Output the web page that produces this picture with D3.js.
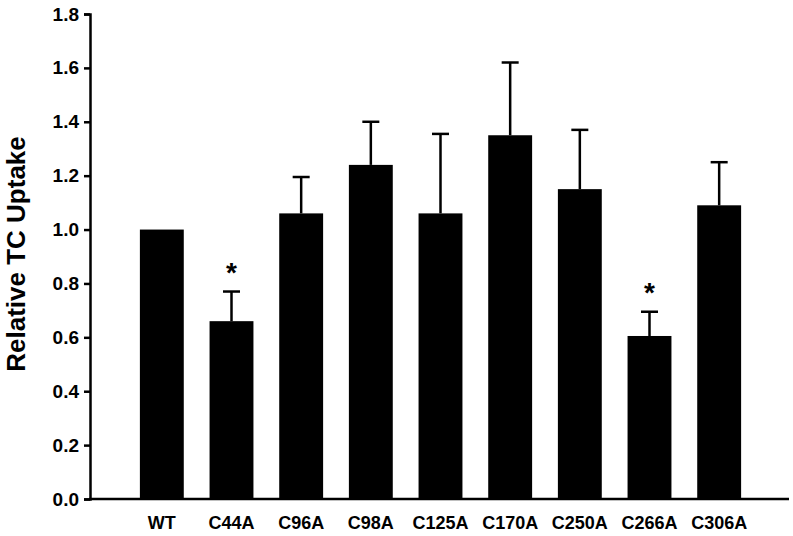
<!DOCTYPE html>
<html>
<head>
<meta charset="utf-8">
<script src="https://cdn.jsdelivr.net/npm/d3@7"></script>
<style>
  body { margin: 0; background: #fff; }
  text { font-family: "Liberation Sans", Arial, sans-serif; font-weight: bold; }
</style>
</head>
<body>
<div id="chart"></div>
<script>
// data
var mutants = ["WT", "C44A", "C96A", "C98A", "C125A", "C170A", "C250A", "C266A", "C306A"];
var uptake = [1.0, 0.66, 1.06, 1.24, 1.06, 1.35, 1.15, 0.605, 1.09];
var errors = [0, 0.11, 0.135, 0.16, 0.295, 0.27, 0.22, 0.09, 0.16];
var signif = [false, true, false, false, false, false, false, true, false];
var yTicks = [0, 0.2, 0.4, 0.6, 0.8, 1.0, 1.2, 1.4, 1.6, 1.8];

var width = 793, height = 536;

var svg = d3.select("#chart").append("svg")
  .attr("width", width)
  .attr("height", height);

// scales
var x = d3.scaleBand()
  .domain(mutants)
  .range([127, 754])
  .paddingInner(0.37)
  .paddingOuter(0.185);

var y = d3.scaleLinear()
  .domain([0, 1.8])
  .range([499, 14]);

// bars
svg.selectAll("rect.bar")
  .data(mutants)
  .enter().append("rect")
  .attr("class", "bar")
  .attr("x", function (d) { return x(d); })
  .attr("width", x.bandwidth())
  .attr("y", function (d, i) { return y(uptake[i]); })
  .attr("height", function (d, i) { return y(0) - y(uptake[i]); })
  .attr("fill", "#000");

// error bars (upper only)
var capW = 17;
mutants.forEach(function (d, i) {
  if (errors[i] <= 0) return;
  var cx = x(d) + x.bandwidth() / 2;
  svg.append("line")
    .attr("x1", cx).attr("x2", cx)
    .attr("y1", y(uptake[i])).attr("y2", y(uptake[i] + errors[i]))
    .attr("stroke", "#000").attr("stroke-width", 2.5);
  svg.append("line")
    .attr("x1", cx - capW / 2).attr("x2", cx + capW / 2)
    .attr("y1", y(uptake[i] + errors[i])).attr("y2", y(uptake[i] + errors[i]))
    .attr("stroke", "#000").attr("stroke-width", 2.5);
  if (signif[i]) {
    svg.append("text")
      .attr("x", cx)
      .attr("y", y(uptake[i] + errors[i]) - 10)
      .attr("text-anchor", "middle")
      .attr("font-size", 28)
      .text("*");
  }
});

// y axis
var yAxis = svg.append("g")
  .attr("transform", "translate(90,0)")
  .call(d3.axisLeft(y).tickValues(yTicks).tickFormat(d3.format(".1f")).tickSize(6).tickPadding(5));
yAxis.select(".domain").attr("stroke-width", 2.5);
yAxis.selectAll(".tick line").attr("stroke-width", 2.5);
yAxis.selectAll(".tick text").attr("font-size", 19).attr("fill", "#000");

// x axis line
svg.append("line")
  .attr("x1", 89).attr("x2", 789)
  .attr("y1", y(0)).attr("y2", y(0))
  .attr("stroke", "#000").attr("stroke-width", 2.5);

// x labels
svg.selectAll("text.xlab")
  .data(mutants)
  .enter().append("text")
  .attr("class", "xlab")
  .attr("x", function (d) { return x(d) + x.bandwidth() / 2; })
  .attr("y", 529)
  .attr("text-anchor", "middle")
  .attr("font-size", 18)
  .text(function (d) { return d; });

// y title
svg.append("text")
  .attr("transform", "translate(25,254) rotate(-90)")
  .attr("text-anchor", "middle")
  .attr("font-size", 26)
  .text("Relative TC Uptake");
</script>
</body>
</html>
